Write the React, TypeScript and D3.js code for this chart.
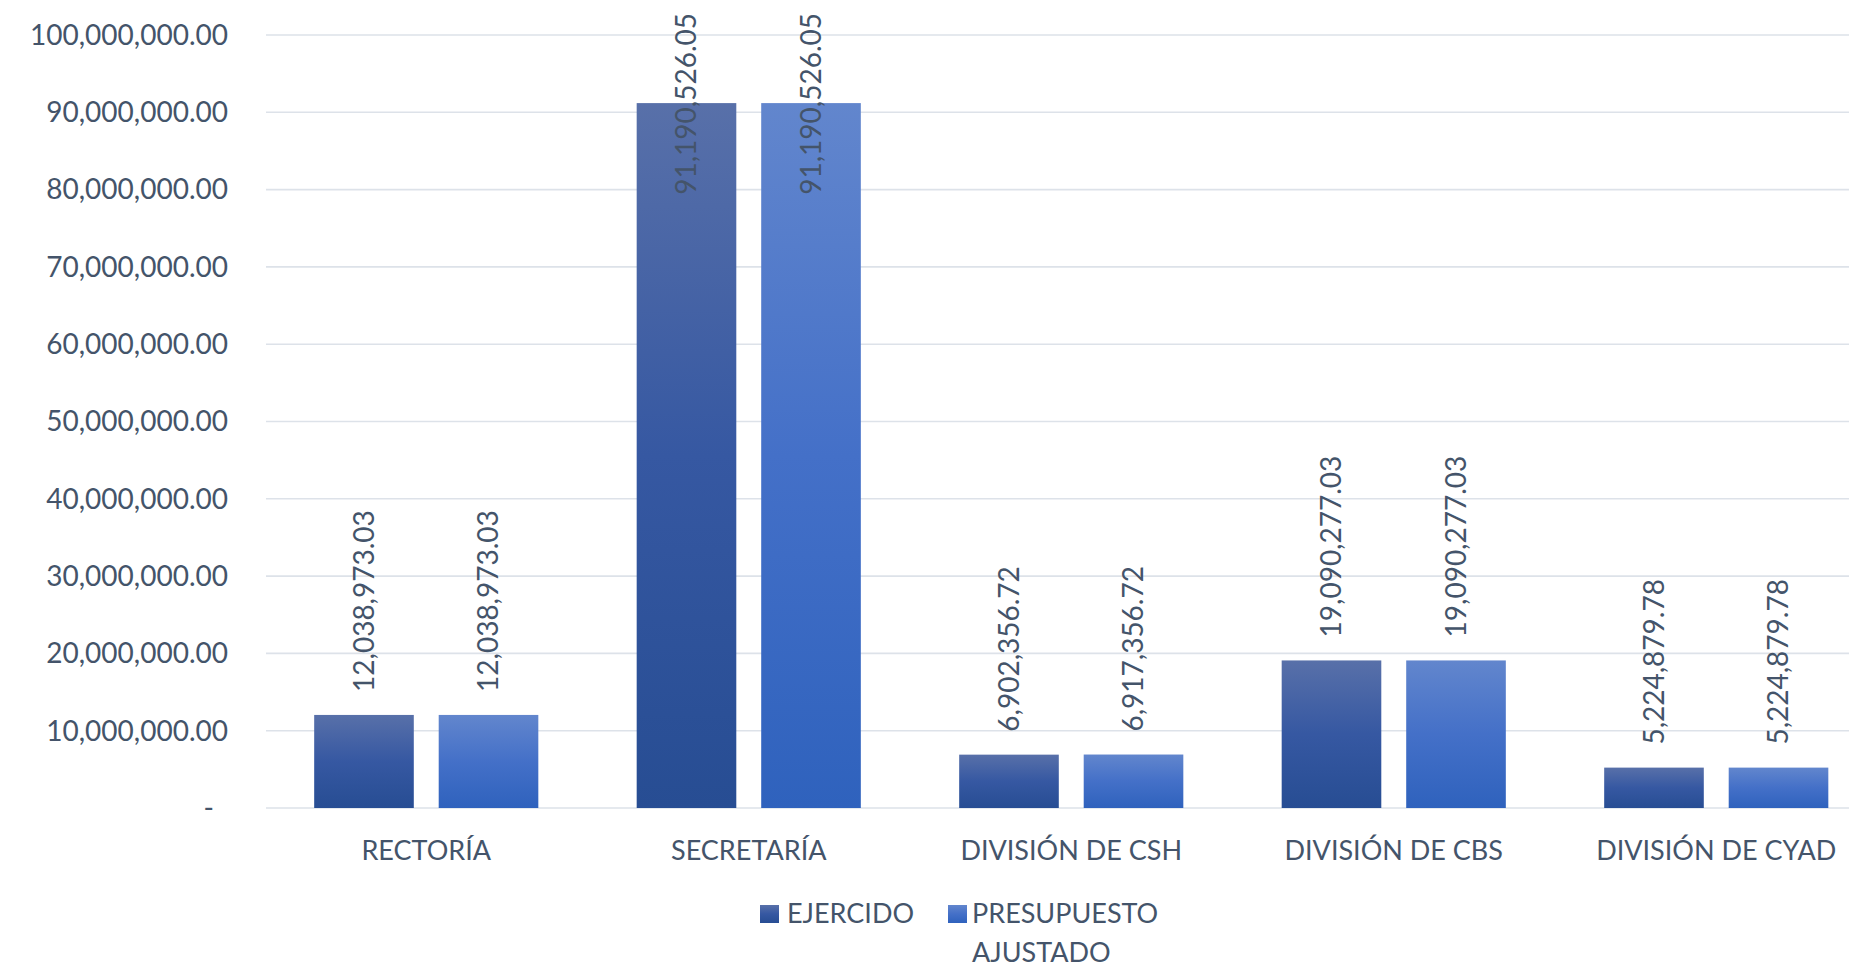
import React, {useEffect, useRef} from "react";
import * as d3 from "d3";

const categories = ["RECTORÍA", "SECRETARÍA", "DIVISIÓN DE CSH", "DIVISIÓN DE CBS", "DIVISIÓN DE CYAD"];
const seriesNames = ["EJERCIDO", "PRESUPUESTO AJUSTADO"];
const ejercido = [12038973.03, 91190526.05, 6902356.72, 19090277.03, 5224879.78];
const presupuesto = [12038973.03, 91190526.05, 6917356.72, 19090277.03, 5224879.78];
const yTicks = [0, 10000000, 20000000, 30000000, 40000000, 50000000, 60000000, 70000000, 80000000, 90000000, 100000000];

const FONT = "Lato, 'Open Sans', sans-serif";
const TEXT = "#44546A";
const GRID = "#DDE2E9";

const App: React.FC = () => {
    const svgRef = useRef<SVGSVGElement | null>(null);

    useEffect(() => {
        if (!svgRef.current) return;
        const svg = d3.select(svgRef.current);
        svg.selectAll("*").remove();

        const W = 1849;
        const left = 265, plotTop = 35, baseline = 808;

        // gradients for the two series
        const defs = svg.append("defs");
        const grads = [
            {id: "g0", top: "#5870A9", mid: "#3658A2", bottom: "#274D93"},
            {id: "g1", top: "#6286CD", mid: "#4470C8", bottom: "#2F62BD"},
        ];
        grads.forEach(g => {
            const lg = defs.append("linearGradient").attr("id", g.id)
                .attr("x1", 0).attr("y1", 0).attr("x2", 0).attr("y2", 1);
            lg.append("stop").attr("offset", "0%").attr("stop-color", g.top);
            lg.append("stop").attr("offset", "50%").attr("stop-color", g.mid);
            lg.append("stop").attr("offset", "100%").attr("stop-color", g.bottom);
        });

        const x0 = d3.scaleBand<string>()
            .domain(categories)
            .range([left, left + 5 * 322.5])
            .paddingInner(0.305)
            .paddingOuter(0.1525);
        const x1 = d3.scaleBand<string>()
            .domain(seriesNames)
            .range([0, x0.bandwidth()])
            .paddingInner(0.2);
        const y = d3.scaleLinear().domain([0, 100000000]).range([baseline, plotTop]);

        // gridlines
        svg.append("g").selectAll("line")
            .data(yTicks)
            .enter().append("line")
            .attr("x1", left + 1).attr("x2", W)
            .attr("y1", d => y(d)).attr("y2", d => y(d))
            .attr("stroke", GRID).attr("stroke-width", 1.6);

        // y labels
        const fmt = d3.format(",.2f");
        svg.append("g").selectAll("text")
            .data(yTicks)
            .enter().append("text")
            .attr("x", d => d === 0 ? 214 : 228)
            .attr("y", d => y(d))
            .attr("dy", "0.35em")
            .attr("text-anchor", "end")
            .attr("font-family", FONT).attr("font-size", 28).attr("fill", TEXT)
            .text(d => d === 0 ? "-" : fmt(d));

        const rows = categories.map((c, i) => ({c, vals: [ejercido[i], presupuesto[i]]}));

        const groups = svg.append("g").selectAll("g")
            .data(rows)
            .enter().append("g")
            .attr("transform", d => `translate(${x0(d.c)},0)`);

        groups.selectAll("rect")
            .data(d => d.vals.map((v, k) => ({v, s: seriesNames[k], k})))
            .enter().append("rect")
            .attr("x", d => x1(d.s)!)
            .attr("y", d => y(d.v))
            .attr("width", x1.bandwidth())
            .attr("height", d => baseline - y(d.v))
            .attr("fill", d => `url(#g${d.k})`);

        // data labels (rotated)
        const labels = groups.selectAll("text.val")
            .data(d => d.vals.map((v, k) => ({v, s: seriesNames[k], k})))
            .enter().append("text")
            .attr("class", "val")
            .attr("font-family", FONT).attr("font-size", 28).attr("fill", TEXT)
            .attr("text-anchor", "start")
            .text(d => fmt(d.v));
        labels.each(function (d) {
            const node = this as SVGTextElement;
            const len = node.getComputedTextLength();
            let start = y(d.v) - 23;
            if (start - len < 13) start = 13 + len;
            const cx = x1(d.s)! + x1.bandwidth() / 2;
            d3.select(node)
                .attr("transform", `translate(${cx},${start}) rotate(-90)`)
                .attr("dy", "0.35em");
        });

        // category labels
        svg.append("g").selectAll("text")
            .data(categories)
            .enter().append("text")
            .attr("x", d => x0(d)! + x0.bandwidth() / 2)
            .attr("y", 860)
            .attr("text-anchor", "middle")
            .attr("font-family", FONT).attr("font-size", 27).attr("fill", TEXT)
            .text(d => d);

        // legend
        const lg = svg.append("g");
        lg.append("rect").attr("x", 760).attr("y", 905).attr("width", 19).attr("height", 18).attr("fill", "url(#g0)");
        lg.append("text").attr("x", 787).attr("y", 923)
            .attr("font-family", FONT).attr("font-size", 27).attr("fill", TEXT).text("EJERCIDO");
        lg.append("rect").attr("x", 948).attr("y", 905).attr("width", 19).attr("height", 18).attr("fill", "url(#g1)");
        lg.append("text").attr("x", 972).attr("y", 923)
            .attr("font-family", FONT).attr("font-size", 27).attr("fill", TEXT).text("PRESUPUESTO");
        lg.append("text").attr("x", 972).attr("y", 962)
            .attr("font-family", FONT).attr("font-size", 27).attr("fill", TEXT).text("AJUSTADO");
    }, []);

    return (
        <svg ref={svgRef} width={1849} height={967}
             style={{position: "absolute", left: 0, top: 0, background: "#fff"}}/>
    );
};

export default App;
